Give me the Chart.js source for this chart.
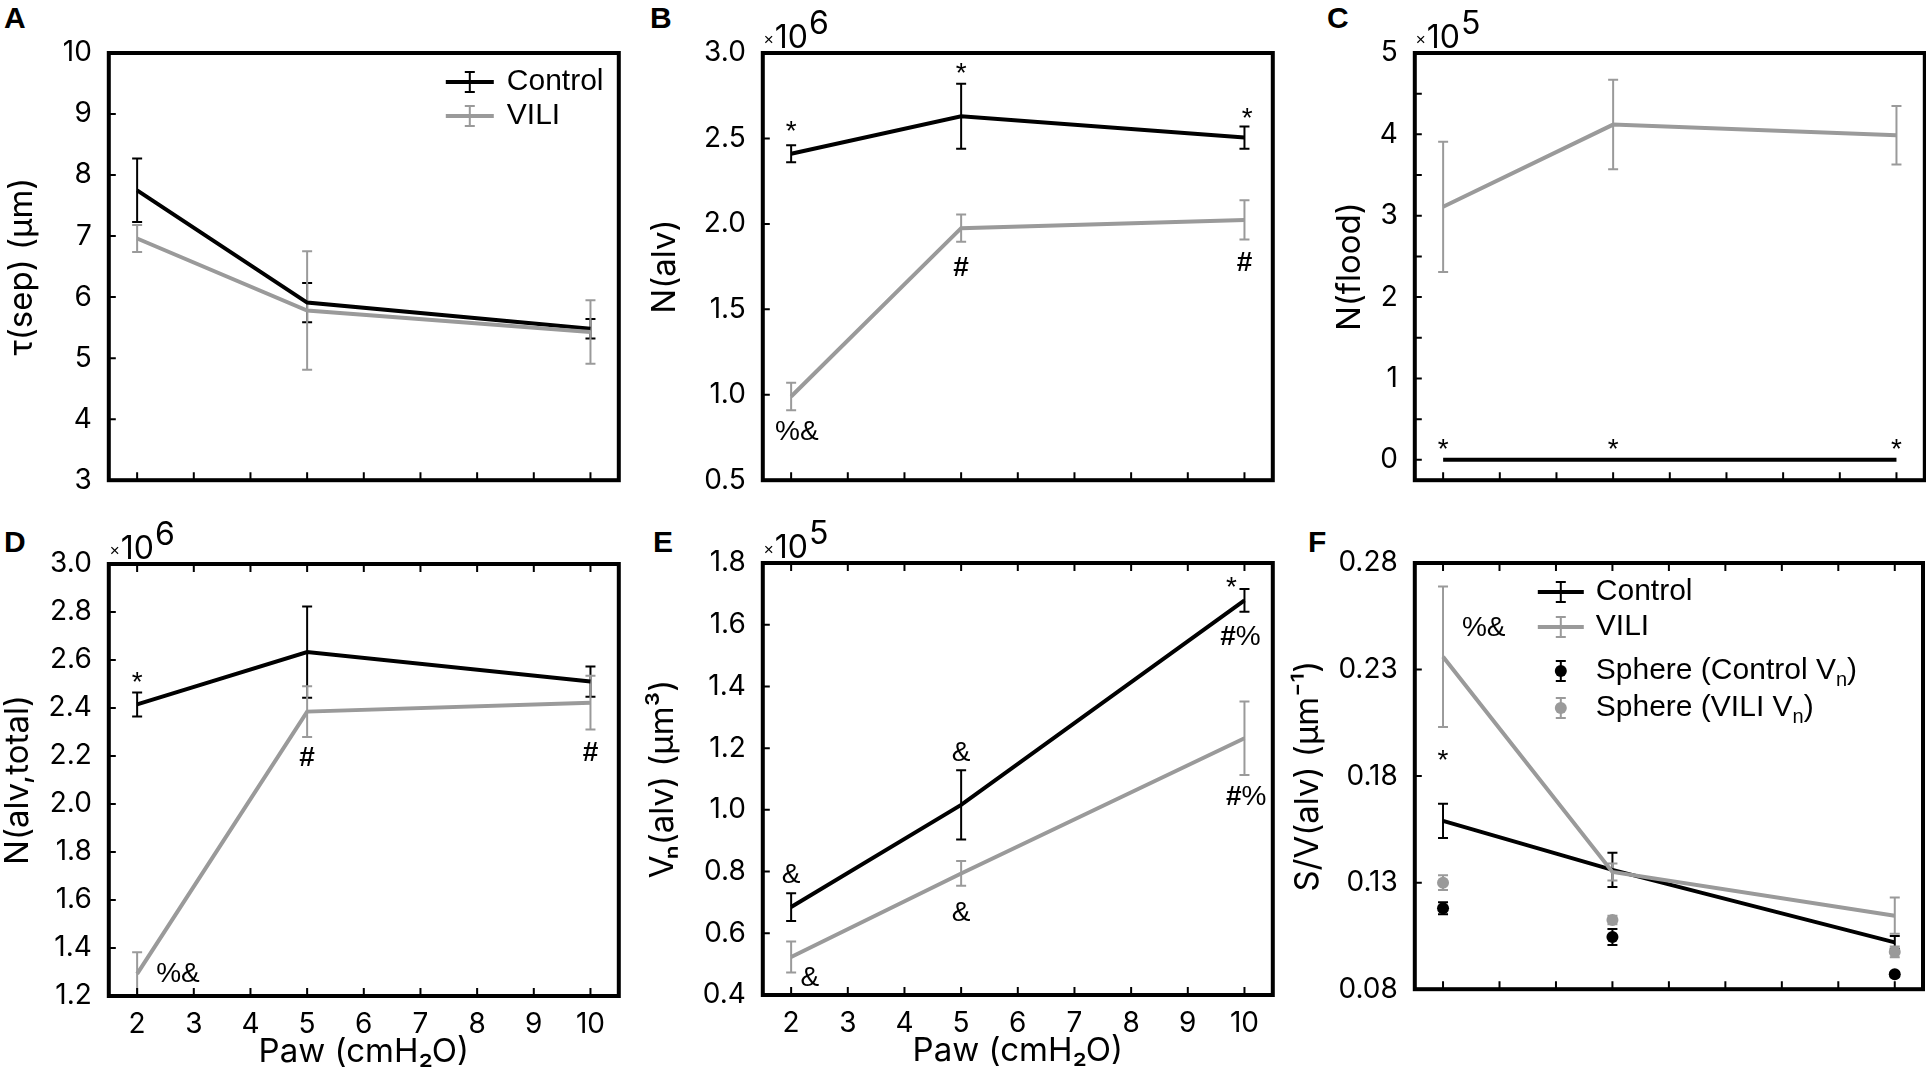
<!DOCTYPE html>
<html>
<head>
<meta charset="utf-8">
<script src="https://cdn.jsdelivr.net/npm/chart.js@4.4.0/dist/chart.umd.min.js"></script>
<style>
  body { margin: 0; background: #fff; width: 1926px; height: 1087px; position: relative; overflow: hidden;
         font-family: "Liberation Sans", Arial, Helvetica, sans-serif; }
  canvas { position: absolute; }
  .tag { position: absolute; font-weight: bold; font-size: 30px; line-height: 30px; }
</style>
</head>
<body>
<div class="tag" style="left:4px;top:3px">A</div>
<div class="tag" style="left:650px;top:3px">B</div>
<div class="tag" style="left:1327px;top:3px">C</div>
<div class="tag" style="left:4px;top:527px">D</div>
<div class="tag" style="left:653px;top:527px">E</div>
<div class="tag" style="left:1308px;top:527px">F</div>
<script>
// airway pressure levels (cmH2O) and x tick values
const paw = [2, 5, 10];
const xTicks = [2, 3, 4, 5, 6, 7, 8, 9, 10];

// A: septal thickness
const tauControl = [7.75, 5.91, 5.48];
const tauControlSem = [0.52, 0.32, 0.16];
const tauVili = [6.96, 5.78, 5.43];
const tauViliSem = [0.22, 0.97, 0.52];
const tauTicks = [3, 4, 5, 6, 7, 8, 9, 10];

// B: number of open alveoli
const nAlvControl = [2.41e6, 2.63e6, 2.505e6];
const nAlvControlSem = [0.05e6, 0.19e6, 0.065e6];
const nAlvVili = [0.99e6, 1.975e6, 2.023e6];
const nAlvViliSem = [0.08e6, 0.08e6, 0.115e6];
const nAlvTicks = [0.5e6, 1.0e6, 1.5e6, 2.0e6, 2.5e6, 3.0e6];
const nAlvMarks = [['*', 2, 2.57e6], ['*', 5, 2.91e6], ['*', 10.05, 2.65e6],
                   ['#', 5, 1.75e6], ['#', 10, 1.78e6], ['%&', 2.1, 0.79e6]];

// C: flooded alveoli
const nFloodControl = [0, 0, 0];
const nFloodVili = [3.11e5, 4.12e5, 3.99e5];
const nFloodViliSem = [0.80e5, 0.55e5, 0.36e5];
const nFloodTicks = [0, 1e5, 2e5, 3e5, 4e5, 5e5];
const nFloodMinor = [0.5e5, 1.5e5, 2.5e5, 3.5e5, 4.5e5];
const nFloodMarks = [['*', 2, 0.2e5], ['*', 5, 0.2e5], ['*', 10, 0.2e5]];

// D: total alveoli
const nTotControl = [2.415e6, 2.633e6, 2.51e6];
const nTotControlSem = [0.05e6, 0.19e6, 0.063e6];
const nTotVili = [1.292e6, 2.385e6, 2.422e6];
const nTotViliSem = [0.09e6, 0.106e6, 0.112e6];
const nTotTicks = [1.2e6, 1.4e6, 1.6e6, 1.8e6, 2.0e6, 2.2e6, 2.4e6, 2.6e6, 2.8e6, 3.0e6];
const nTotMarks = [['*', 2, 2.53e6], ['#', 5, 2.2e6], ['#', 10, 2.22e6], ['%&', 2.72, 1.30e6]];

// E: number-weighted alveolar volume
const vnControl = [0.685e5, 1.016e5, 1.679e5];
const vnControlSem = [0.045e5, 0.112e5, 0.037e5];
const vnVili = [0.523e5, 0.794e5, 1.232e5];
const vnViliSem = [0.05e5, 0.04e5, 0.119e5];
const vnTicks = [0.4e5, 0.6e5, 0.8e5, 1.0e5, 1.2e5, 1.4e5, 1.6e5, 1.8e5];
const vnMarks = [['&', 2, 0.794e5], ['&', 5, 1.19e5], ['&', 5, 0.67e5], ['&', 2.33, 0.46e5],
                 ['*', 9.77, 1.74e5], ['#%', 9.93, 1.566e5], ['#%', 10.03, 1.047e5]];

// F: surface to volume ratio
const svControl = [0.159, 0.136, 0.102];
const svControlSem = [0.008, 0.008, 0.003];
const svVili = [0.236, 0.135, 0.1145];
const svViliSem = [0.033, 0.004, 0.0085];
const sphereControl = [0.118, 0.1045, 0.087];
const sphereControlSem = [0.0028, 0.0038, 0.001];
const sphereVili = [0.130, 0.1125, 0.0975];
const sphereViliSem = [0.0035, 0.002, 0.0025];
const svTicks = [0.08, 0.13, 0.18, 0.23, 0.28];
const svMarks = [['*', 2, 0.19], ['%&', 2.72, 0.25]];

const FONT = '"Liberation Sans", Arial, Helvetica, sans-serif';
const AXIS_FONT = 'Inter, "Liberation Sans", Arial, sans-serif';
const BLACK = '#000000';
const GRAY = '#9a9a9a';

const pts = (ys) => paw.map((x, i) => ({ x: x, y: ys[i] }));

// draws a string char by char: '#' bold, 'ₙ' as small lowered n
function drawRich(ctx, str, x, y, size, align) {
  const parts = [...str].map(ch => {
    if (ch === '#') return { t: '#', f: 'bold ' + size + 'px ' + FONT, dy: 0 };
    if (ch === 'ₙ') return { t: 'n', f: Math.round(size * 0.65) + 'px ' + FONT, dy: size * 0.3 };
    return { t: ch, f: size + 'px ' + FONT, dy: 0 };
  });
  let w = 0;
  parts.forEach(p => { ctx.font = p.f; p.w = ctx.measureText(p.t).width; w += p.w; });
  let cx = align === 'center' ? x - w / 2 : x;
  parts.forEach(p => { ctx.font = p.f; ctx.fillText(p.t, cx, y + p.dy); cx += p.w; });
}

const figurePlugin = {
  id: 'figure',
  beforeDatasetsDraw(chart) {
    const ctx = chart.ctx, a = chart.chartArea;
    const xs = chart.scales.x, ys = chart.scales.y;
    ctx.save();
    ctx.beginPath();
    ctx.rect(a.left, a.top, a.right - a.left, a.bottom - a.top);
    ctx.clip();
    chart.data.datasets.forEach(ds => {
      if (!ds.sem) return;
      ctx.strokeStyle = ds.barColor;
      ctx.lineWidth = 2;
      ds.data.forEach((p, i) => {
        const x = xs.getPixelForValue(p.x);
        const y1 = ys.getPixelForValue(p.y - ds.sem[i]);
        const y2 = ys.getPixelForValue(p.y + ds.sem[i]);
        ctx.beginPath();
        ctx.moveTo(x, y1); ctx.lineTo(x, y2);
        ctx.moveTo(x - 5, y1); ctx.lineTo(x + 5, y1);
        ctx.moveTo(x - 5, y2); ctx.lineTo(x + 5, y2);
        ctx.stroke();
      });
    });
    ctx.restore();
  },
  afterDraw(chart) {
    const o = chart.options.plugins.figure;
    const ctx = chart.ctx, a = chart.chartArea;
    const xs = chart.scales.x, ys = chart.scales.y;
    ctx.save();
    ctx.fillStyle = BLACK;
    ctx.strokeStyle = BLACK;

    // inward tick marks
    ctx.lineWidth = 2;
    ctx.beginPath();
    xTicks.forEach(v => {
      const x = xs.getPixelForValue(v);
      ctx.moveTo(x, a.bottom); ctx.lineTo(x, a.bottom - 8);
      if (o.topTicks) { ctx.moveTo(x, a.top); ctx.lineTo(x, a.top + 8); }
    });
    ys.ticks.concat((o.minorY || []).map(v => ({ value: v }))).forEach(t => {
      const y = ys.getPixelForValue(t.value);
      ctx.moveTo(a.left, y); ctx.lineTo(a.left + 7, y);
    });
    ctx.stroke();

    // axes box
    ctx.lineWidth = 4;
    ctx.strokeRect(a.left, a.top, a.right - a.left, a.bottom - a.top);

    // exponent label
    if (o.exponent) {
      ctx.textBaseline = 'alphabetic';
      ctx.textAlign = 'left';
      ctx.font = '17px ' + FONT;
      ctx.fillText('×', a.left + 1, a.top - 8);
      let x = a.left + 1 + ctx.measureText('×').width + 1;
      ctx.font = '32px ' + AXIS_FONT;
      ctx.fillText('10', x, a.top - 5);
      x += ctx.measureText('10').width + 1;
      ctx.fillText(o.exponent, x, a.top - 19);
    }

    // significance marks, ink centred on the given point
    (o.marks || []).forEach(m => {
      const px = xs.getPixelForValue(m[1]);
      const py = ys.getPixelForValue(m[2]);
      ctx.font = '28px ' + FONT;
      const mt = ctx.measureText(m[0]);
      const base = py + (mt.actualBoundingBoxAscent - mt.actualBoundingBoxDescent) / 2;
      ctx.textBaseline = 'alphabetic';
      drawRich(ctx, m[0], px, base, 28, 'center');
    });

    // legend
    if (o.legend) {
      const L = o.legend;
      chart.data.datasets.forEach((ds, i) => {
        const y = a.top + L.rows[i];
        const x0 = a.left + L.x0, x1 = a.left + L.x1, xm = (x0 + x1) / 2;
        ctx.strokeStyle = ds.barColor;
        ctx.fillStyle = ds.barColor;
        if (ds.showLine !== false) {
          ctx.lineWidth = 4;
          ctx.beginPath(); ctx.moveTo(x0, y); ctx.lineTo(x1, y); ctx.stroke();
        }
        ctx.lineWidth = 2;
        ctx.beginPath();
        ctx.moveTo(xm, y - 10); ctx.lineTo(xm, y + 10);
        ctx.moveTo(xm - 5, y - 10); ctx.lineTo(xm + 5, y - 10);
        ctx.moveTo(xm - 5, y + 10); ctx.lineTo(xm + 5, y + 10);
        ctx.stroke();
        if (ds.showLine === false) {
          ctx.beginPath(); ctx.arc(xm, y, 6, 0, Math.PI * 2); ctx.fill();
        }
        ctx.fillStyle = BLACK;
        ctx.textBaseline = 'middle';
        drawRich(ctx, ds.label, a.left + L.tx, y, 30, 'left');
      });
    }
    ctx.restore();
  }
};

function lineSet(label, ys, sem, color, order) {
  return { label: label, data: pts(ys), sem: sem, barColor: color, borderColor: color,
           borderWidth: 4, pointRadius: 0, tension: 0, order: order };
}
function dotSet(label, ys, sem, color) {
  return { label: label, data: pts(ys), sem: sem, barColor: color, showLine: false,
           pointRadius: 6, pointBackgroundColor: color, pointBorderWidth: 0, order: -1 };
}

function makePanel(cfg) {
  const W = 510, H = cfg.h, padTop = 60;
  const titleSize = 33;
  const yW = cfg.d + titleSize * 0.6;
  const xH = cfg.xTitle ? 76 : 20;
  const cv = document.createElement('canvas');
  cv.width = Math.round(yW + W + 4);
  cv.height = padTop + H + xH;
  cv.style.left = (cfg.left - yW) + 'px';
  cv.style.top = (cfg.top - padTop) + 'px';
  document.body.appendChild(cv);
  const scaleDiv = cfg.div || 1;
  new Chart(cv.getContext('2d'), {
    type: 'line',
    data: { datasets: cfg.datasets },
    plugins: [figurePlugin],
    options: {
      responsive: false,
      animation: false,
      devicePixelRatio: 1,
      layout: { padding: { left: 0, right: cv.width - yW - W, top: padTop, bottom: 0 } },
      plugins: {
        legend: { display: false },
        tooltip: { enabled: false },
        figure: { exponent: cfg.exponent, marks: cfg.marks, legend: cfg.legend,
                  topTicks: cfg.topTicks, minorY: cfg.minorY }
      },
      scales: {
        x: {
          type: 'linear', min: 1.5, max: 10.5,
          grid: { display: false }, border: { display: false },
          afterBuildTicks: s => { s.ticks = xTicks.map(v => ({ value: v })); },
          afterFit: s => { s.height = xH; },
          ticks: { display: !!cfg.xTitle, autoSkip: false, maxRotation: 0, padding: 4,
                   color: BLACK, font: { family: AXIS_FONT, size: 28 } },
          title: { display: !!cfg.xTitle, text: cfg.xTitle, color: BLACK, padding: 0,
                   font: { family: AXIS_FONT, size: titleSize } }
        },
        y: {
          type: 'linear', min: cfg.yMin, max: cfg.yMax,
          grid: { display: false }, border: { display: false },
          afterBuildTicks: s => { s.ticks = cfg.yTicks.map(v => ({ value: v })); },
          afterFit: s => { s.width = yW; },
          ticks: { padding: 9, color: BLACK, font: { family: AXIS_FONT, size: 28 },
                   callback: v => (v / scaleDiv).toFixed(cfg.dec) },
          title: { display: true, text: cfg.yTitle, color: BLACK, padding: 0,
                   font: { family: AXIS_FONT, size: titleSize } }
        }
      }
    }
  });
}

makePanel({
  left: 109, top: 53, h: 433, d: 87,
  yMin: 3, yMax: 10, yTicks: tauTicks, dec: 0, yTitle: 'τ(sep) (μm)',
  legend: { x0: 337, x1: 385, tx: 398, rows: [29, 63] },
  datasets: [lineSet('Control', tauControl, tauControlSem, BLACK, 1),
             lineSet('VILI', tauVili, tauViliSem, GRAY, 0)]
});
makePanel({
  left: 763, top: 53, h: 433, d: 98,
  yMin: 0.5e6, yMax: 3.0e6, yTicks: nAlvTicks, dec: 1, div: 1e6, exponent: '6', yTitle: 'N(alv)',
  marks: nAlvMarks,
  datasets: [lineSet('Control', nAlvControl, nAlvControlSem, BLACK, 1),
             lineSet('VILI', nAlvVili, nAlvViliSem, GRAY, 0)]
});
makePanel({
  left: 1415, top: 53, h: 433, d: 65,
  yMin: -0.25e5, yMax: 5e5, yTicks: nFloodTicks, dec: 0, div: 1e5, exponent: '5', yTitle: 'N(flood)',
  marks: nFloodMarks, minorY: nFloodMinor,
  datasets: [lineSet('Control', nFloodControl, null, BLACK, 1),
             lineSet('VILI', nFloodVili, nFloodViliSem, GRAY, 0)]
});
makePanel({
  left: 109, top: 564, h: 432, d: 91, topTicks: true,
  yMin: 1.2e6, yMax: 3.0e6, yTicks: nTotTicks, dec: 1, div: 1e6, exponent: '6', yTitle: 'N(alv,total)',
  xTitle: 'Paw (cmH₂O)', marks: nTotMarks,
  datasets: [lineSet('Control', nTotControl, nTotControlSem, BLACK, 1),
             lineSet('VILI', nTotVili, nTotViliSem, GRAY, 0)]
});
makePanel({
  left: 763, top: 563, h: 432, d: 100, topTicks: true,
  yMin: 0.4e5, yMax: 1.8e5, yTicks: vnTicks, dec: 1, div: 1e5, exponent: '5', yTitle: 'Vₙ(alv) (μm³)',
  xTitle: 'Paw (cmH₂O)', marks: vnMarks,
  datasets: [lineSet('Control', vnControl, vnControlSem, BLACK, 1),
             lineSet('VILI', vnVili, vnViliSem, GRAY, 0)]
});
makePanel({
  left: 1415, top: 563, h: 432, d: 107, topTicks: true,
  yMin: 0.08, yMax: 0.28, yTicks: svTicks, dec: 2, yTitle: 'S/V(alv) (μm⁻¹)',
  marks: svMarks,
  legend: { x0: 123, x1: 169, tx: 181, rows: [29, 64, 108, 145] },
  datasets: [lineSet('Control', svControl, svControlSem, BLACK, 1),
             lineSet('VILI', svVili, svViliSem, GRAY, 0),
             dotSet('Sphere (Control Vₙ)', sphereControl, sphereControlSem, BLACK),
             dotSet('Sphere (VILI Vₙ)', sphereVili, sphereViliSem, GRAY)]
});
</script>
</body>
</html>
